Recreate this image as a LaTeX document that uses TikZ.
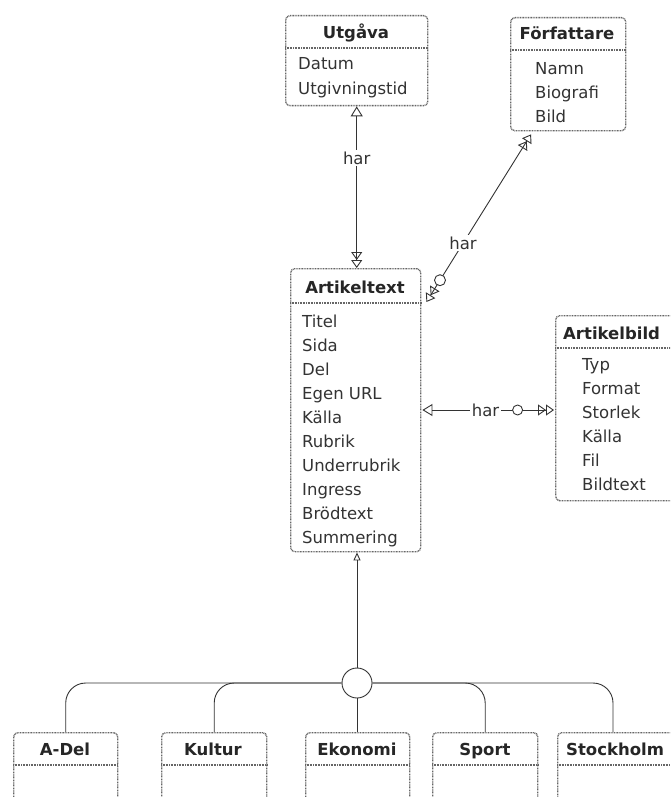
\documentclass[tikz,border=0pt]{standalone}
\usepackage{fontspec}
\setmainfont{DejaVu Sans}
\usetikzlibrary{arrows.meta,calc}

\tikzset{
  ent/.style={draw=black!60, line width=1.4pt, dash pattern=on 0.9pt off 0.7pt,
              rounded corners=4pt, fill=white, inner sep=0pt, anchor=north west},
  hdrline/.style={draw=black!60, line width=1.4pt, dash pattern=on 0.9pt off 0.7pt},
  ttl/.style={font=\fontsize{16.5}{18}\selectfont\bfseries, text=black!85, inner sep=0pt},
  attr/.style={font=\fontsize{16.5}{18}\selectfont, text=black!80, inner sep=0pt, anchor=base west},
  rel/.style={draw=black!80, line width=0.9pt},
  lab/.style={font=\fontsize{16.5}{18}\selectfont, text=black!80, fill=white, inner sep=1.5pt},
  ring/.style={circle, draw=black!80, line width=0.9pt, fill=white, inner sep=0pt},
  onetip/.tip={Triangle[open, length=10pt, width=12pt]},
  manytip/.tip={Triangle[open, length=8pt, width=11pt] Triangle[open, length=8pt, width=11pt]},
  smalltip/.tip={Triangle[open, length=8pt, width=7pt]},
}

\begin{document}
\begin{tikzpicture}[x=1pt, y=-1pt]
  \useasboundingbox (0,0) rectangle (670,797);
  \clip (0,0) rectangle (670,797);

  % ---------- Utgåva ----------
  \node[ent, minimum width=142pt, minimum height=90pt] (utg) at (285,15) {};
  \draw[hdrline] ($(utg.north west)+(0,33)$) -- ($(utg.north east)+(0,33)$);
  \node[ttl, anchor=base] (utgT) at (356,39) {Utgåva};
  \foreach \t [count=\i] in {Datum, Utgivningstid}
    \node[attr] (utg-\i) at (298, {70+25*(\i-1)}) {\t};

  % ---------- Författare ----------
  \node[ent, minimum width=115pt, minimum height=113pt] (forf) at (510,17) {};
  \draw[hdrline] ($(forf.north west)+(0,33)$) -- ($(forf.north east)+(0,33)$);
  \node[ttl, anchor=base] (forfT) at (567,40) {Författare};
  \foreach \t [count=\i] in {Namn, Biografi, Bild}
    \node[attr] (forf-\i) at (535, {75+24*(\i-1)}) {\t};

  % ---------- Artikeltext ----------
  \node[ent, minimum width=130pt, minimum height=283pt] (art) at (290,268) {};
  \draw[hdrline] ($(art.north west)+(0,35)$) -- ($(art.north east)+(0,35)$);
  \node[ttl, anchor=base] (artT) at (355,293) {Artikeltext};
  \foreach \t [count=\i] in {Titel, Sida, Del, Egen URL, Källa, Rubrik,
                             Underrubrik, Ingress, Brödtext, Summering}
    \node[attr] (art-\i) at (302, {327+24*(\i-1)}) {\t};

  % ---------- Artikelbild ----------
  \node[ent, minimum width=130pt, minimum height=185pt] (bild) at (555,315) {};
  \draw[hdrline] ($(bild.north west)+(0,33)$) -- ($(bild.north east)+(0,33)$);
  \node[ttl, anchor=base west] (bildT) at (563,339) {Artikelbild};
  \foreach \t [count=\i] in {Typ, Format, Storlek, Källa, Fil, Bildtext}
    \node[attr] (bild-\i) at (582, {370+24*(\i-1)}) {\t};

  % ---------- Subtypes ----------
  \node[ent, minimum width=104pt, minimum height=90pt] (adel) at (13,732) {};
  \node[ent, minimum width=105pt, minimum height=90pt] (kult) at (161,732) {};
  \node[ent, minimum width=104pt, minimum height=90pt] (eko)  at (305,732) {};
  \node[ent, minimum width=105pt, minimum height=90pt] (sport) at (432,732) {};
  \node[ent, minimum width=130pt, minimum height=90pt] (stk)  at (557,732) {};
  \foreach \b in {adel, kult, eko, sport, stk}
    \draw[hdrline] ($(\b.north west)+(0,33)$) -- ($(\b.north east)+(0,33)$);
  \node[ttl, anchor=base] (adelT)  at (65,755)  {A-Del};
  \node[ttl, anchor=base] (kultT)  at (213,755) {Kultur};
  \node[ttl, anchor=base] (ekoT)   at (357,755) {Ekonomi};
  \node[ttl, anchor=base] (sportT) at (485,755) {Sport};
  \node[ttl, anchor=base west] (stkT) at (566,755) {Stockholm};

  % ---------- Relations ----------
  % Utgåva -- Artikeltext
  \draw[rel, {onetip}-{manytip}] (utg.south) -- (utg.south |- art.north)
    node[lab, pos=0.32] (r1) {har};

  % Författare -- Artikeltext
  \coordinate (fa) at ($(art.north east)+(5,34)$);
  \coordinate (fb) at ($(forf.south west)+(21,3)$);
  \draw[rel, {manytip}-{manytip}] (fa) -- (fb)
    node[lab, pos=0.35] (r2) {har};
  \node[ring, minimum size=11pt] (c2) at ($(fa)!0.13!(fb)$) {};

  % Artikeltext -- Artikelbild
  \coordinate (ba) at (art.east |- 0,410);
  \coordinate (bb) at (bild.west |- 0,410);
  \draw[rel, {onetip}-{manytip}] ($(ba)+(1,0)$) -- ($(bb)+(-1,0)$)
    node[lab, pos=0.48] (r3) {har};
  \node[ring, minimum size=10pt] (c3) at ($(ba)!0.72!(bb)$) {};

  % ---------- Generalization ----------
  \node[ring, minimum size=30pt] (gen) at (357,683) {};
  \draw[rel, -{smalltip}] (gen.north) -- (gen.north |- art.south);
  \draw[rel, rounded corners=20pt] (gen.west) -| (adel.north);
  \draw[rel, rounded corners=20pt] (gen.west) -| (kult.north);
  \draw[rel] (gen.south) -- (gen.south |- eko.north);
  \draw[rel, rounded corners=20pt] (gen.east) -| (sport.north);
  \draw[rel, rounded corners=20pt] (gen.east) -| ($(stk.north west)+(56,0)$);
\end{tikzpicture}
\end{document}
